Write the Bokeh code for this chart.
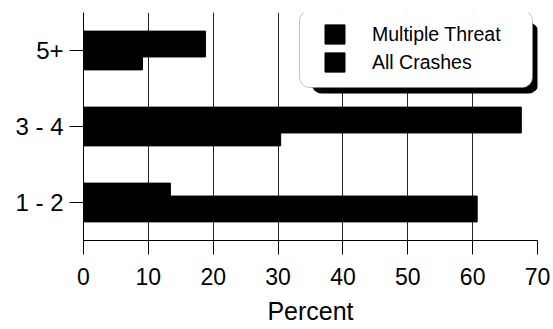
from bokeh.plotting import figure
from bokeh.models import (FactorRange, Range1d, Legend, LegendItem, BoxAnnotation,
                          ColumnDataSource, FixedTicker)
from bokeh.transform import dodge
from bokeh.embed import file_html
from bokeh.resources import INLINE

# ---- data ----
categories = ["1 - 2", "3 - 4", "5+"]
multiple_threat = [13.4, 67.5, 18.8]
all_crashes = [60.7, 30.4, 9.1]
x_ticks = [0, 10, 20, 30, 40, 50, 60, 70]
series_names = ["Multiple Threat", "All Crashes"]

FONT = "Liberation Sans"

source = ColumnDataSource(dict(cat=categories, mt=multiple_threat, ac=all_crashes))

p = figure(width=553, height=329,
           y_range=FactorRange(*categories, range_padding=0),
           x_range=Range1d(0, 70),
           output_backend="svg", toolbar_location=None,
           min_border_left=83, min_border_right=16,
           min_border_top=12, min_border_bottom=89)
p.outline_line_color = None
p.background_fill_color = "white"

r_mt = p.hbar(y=dodge("cat", 0.085, range=p.y_range), left=0, right="mt",
              height=0.34, fill_color="black", line_color="black", source=source)
r_ac = p.hbar(y=dodge("cat", -0.085, range=p.y_range), left=0, right="ac",
              height=0.34, fill_color="black", line_color="black", source=source)

# axes
p.xaxis.ticker = FixedTicker(ticks=x_ticks)
p.xaxis.minor_tick_line_color = None
p.xaxis.major_tick_in = 0
p.xaxis.major_tick_out = 14
p.xaxis.major_label_standoff = 13
p.xaxis.major_label_text_font = FONT
p.xaxis.major_label_text_font_size = "23px"
p.xaxis.major_label_text_color = "black"
p.xaxis.axis_label = "Percent"
p.xaxis.axis_label_text_font = FONT
p.xaxis.axis_label_text_font_size = "25px"
p.xaxis.axis_label_text_font_style = "normal"
p.xaxis.axis_label_text_color = "black"
p.xaxis.axis_label_standoff = 9
p.xaxis.axis_line_color = "black"
p.xaxis.major_tick_line_color = "black"

p.yaxis.major_tick_in = 0
p.yaxis.major_tick_out = 14
p.yaxis.major_label_standoff = 6
p.yaxis.major_label_text_font = FONT
p.yaxis.major_label_text_font_size = "24px"
p.yaxis.major_label_text_color = "black"
p.yaxis.axis_line_color = "black"
p.yaxis.major_tick_line_color = "black"

p.ygrid.grid_line_color = None
p.xgrid.grid_line_color = "black"
p.xgrid.grid_line_alpha = 0.85
p.xgrid.grid_line_width = 1

# legend box with drop shadow (screen units, relative to frame bottom-left)
shadow = BoxAnnotation(left=228, right=455, top=218, bottom=147,
                       left_units="screen", right_units="screen",
                       top_units="screen", bottom_units="screen",
                       fill_color="black", fill_alpha=1, line_color=None,
                       border_radius=10)
white = BoxAnnotation(left=216, right=449, top=230, bottom=153,
                      left_units="screen", right_units="screen",
                      top_units="screen", bottom_units="screen",
                      fill_color="white", fill_alpha=1, line_color="#888888",
                      line_alpha=0.5, line_width=1, border_radius=10)
p.add_layout(shadow)
p.add_layout(white)

legend = Legend(items=[LegendItem(label=series_names[0], renderers=[r_mt]),
                       LegendItem(label=series_names[1], renderers=[r_ac])],
                location=(239, 166), padding=0, margin=0,
                glyph_width=25, glyph_height=24, spacing=4,
                label_standoff=25, label_text_font=FONT,
                label_text_font_size="19.5px", label_text_color="black",
                border_line_color=None, background_fill_alpha=0)
p.add_layout(legend)

open("out.html", "w").write(file_html(p, INLINE))
